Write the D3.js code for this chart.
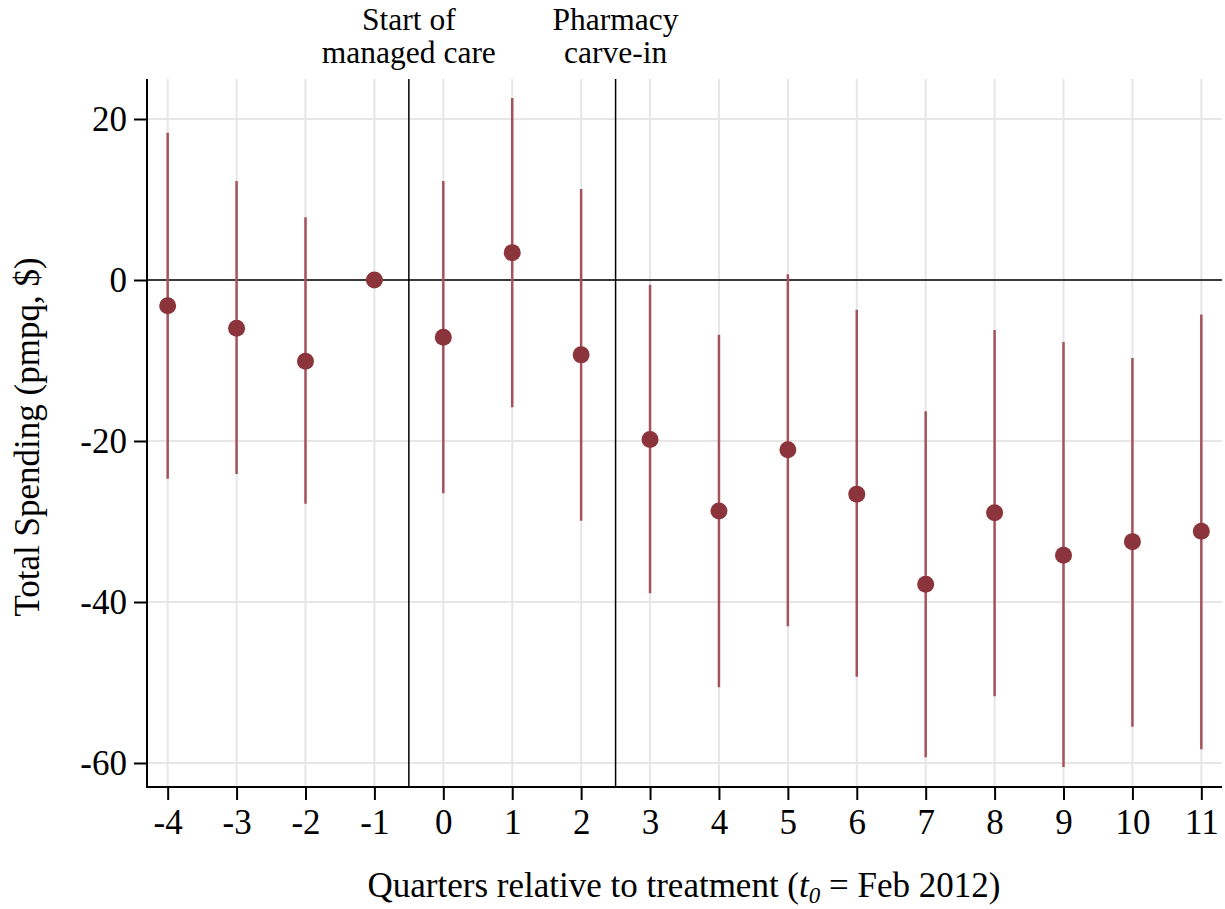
<!DOCTYPE html>
<html>
<head>
<meta charset="utf-8">
<script src="https://cdn.jsdelivr.net/npm/d3@7"></script>
<style>
  body { margin: 0; background: #fff; }
  text { font-family: "Liberation Serif", "Times New Roman", serif; fill: #000; }
</style>
</head>
<body>
<svg id="chart" width="1225" height="909"></svg>
<script>
// Event-study estimates
var quarters = [-4, -3, -2, -1, 0, 1, 2, 3, 4, 5, 6, 7, 8, 9, 10, 11];
var estimates = [-3.2, -6.0, -10.1, 0, -7.1, 3.4, -9.3, -19.8, -28.7, -21.1, -26.6, -37.8, -28.9, -34.2, -32.5, -31.2];
var ciLow = [-24.7, -24.1, -27.8, null, -26.5, -15.8, -29.9, -38.9, -50.6, -43.0, -49.3, -59.3, -51.7, -60.5, -55.5, -58.3];
var ciHigh = [18.3, 12.3, 7.8, null, 12.3, 22.6, 11.3, -0.6, -6.8, 0.7, -3.7, -16.3, -6.2, -7.7, -9.7, -4.3];
var yTicks = [20, 0, -20, -40, -60];
var events = [
  {x: -0.5, lines: ["Start of", "managed care"]},
  {x: 2.5, lines: ["Pharmacy", "carve-in"]}
];

var svg = d3.select("#chart");
var margin = {top: 79, right: 3, bottom: 122, left: 147};
var width = +svg.attr("width");
var height = +svg.attr("height");

var x = d3.scaleLinear()
          .domain([-4.3, 11.3])
          .range([margin.left, width - margin.right]);
var y = d3.scaleLinear()
          .domain([-60, 20])
          .range([763, 119]);
var yBottom = height - margin.bottom;

// plain hyphen for negatives, like the original
var fmt = function(d) { return String(d); };

var rows = quarters.map(function(q, i) {
  return {q: q, est: estimates[i], lo: ciLow[i], hi: ciHigh[i]};
});

// Gridlines
svg.append("g").selectAll("line")
   .data(quarters)
   .enter().append("line")
   .attr("x1", function(d) { return x(d); })
   .attr("x2", function(d) { return x(d); })
   .attr("y1", margin.top)
   .attr("y2", yBottom)
   .attr("stroke", "#e6e6e6")
   .attr("stroke-width", 2);

svg.append("g").selectAll("line")
   .data(yTicks)
   .enter().append("line")
   .attr("x1", margin.left)
   .attr("x2", width - margin.right)
   .attr("y1", function(d) { return y(d); })
   .attr("y2", function(d) { return y(d); })
   .attr("stroke", "#e6e6e6")
   .attr("stroke-width", 2);

// Zero line
svg.append("line")
   .attr("x1", margin.left)
   .attr("x2", width - margin.right)
   .attr("y1", y(0))
   .attr("y2", y(0))
   .attr("stroke", "#000")
   .attr("stroke-width", 1.5);

// Event lines and labels (one text per line)
events.forEach(function(e) {
  svg.append("line")
     .attr("x1", x(e.x))
     .attr("x2", x(e.x))
     .attr("y1", margin.top)
     .attr("y2", yBottom)
     .attr("stroke", "#000")
     .attr("stroke-width", 1.5);
  e.lines.forEach(function(s, i) {
    svg.append("text")
       .attr("x", x(e.x))
       .attr("y", 30 + i * 32.5)
       .style("text-anchor", "middle")
       .style("font-size", "31.5px")
       .text(s);
  });
});

// Confidence intervals
svg.append("g").selectAll("line")
   .data(rows.filter(function(d) { return d.lo !== null; }))
   .enter().append("line")
   .attr("x1", function(d) { return x(d.q); })
   .attr("x2", function(d) { return x(d.q); })
   .attr("y1", function(d) { return y(d.lo); })
   .attr("y2", function(d) { return y(d.hi); })
   .attr("stroke", "#a5525c")
   .attr("stroke-width", 2.5);

// Point estimates
svg.append("g").selectAll("circle")
   .data(rows)
   .enter().append("circle")
   .attr("cx", function(d) { return x(d.q); })
   .attr("cy", function(d) { return y(d.est); })
   .attr("r", 8.5)
   .attr("fill", "#8c343b");

// Axes
var xAxis = svg.append("g")
   .attr("transform", "translate(0," + yBottom + ")")
   .call(d3.axisBottom(x).tickValues(quarters).tickSize(13).tickPadding(9).tickFormat(fmt));
var yAxis = svg.append("g")
   .attr("transform", "translate(" + margin.left + ",0)")
   .call(d3.axisLeft(y).tickValues(yTicks).tickSize(13).tickPadding(7).tickFormat(fmt));

[xAxis, yAxis].forEach(function(a) {
  a.select(".domain").remove();
  a.selectAll(".tick line").attr("stroke-width", 2);
  a.selectAll("text").style("font-size", "35px");
});
svg.append("line")
   .attr("x1", margin.left).attr("x2", margin.left)
   .attr("y1", margin.top).attr("y2", yBottom + 1)
   .attr("stroke", "#000").attr("stroke-width", 2);
svg.append("line")
   .attr("x1", margin.left - 1).attr("x2", width - margin.right)
   .attr("y1", yBottom).attr("y2", yBottom)
   .attr("stroke", "#000").attr("stroke-width", 2);

// Axis titles
var xTitle = svg.append("text")
   .attr("x", (363 + 1005) / 2)
   .attr("y", 897)
   .style("text-anchor", "middle")
   .style("font-size", "35px");
xTitle.append("tspan").text("Quarters relative to treatment (");
xTitle.append("tspan").style("font-style", "italic").text("t");
xTitle.append("tspan").style("font-style", "italic").style("font-size", "23px").attr("dy", 6).text("0");
xTitle.append("tspan").attr("dy", -6).text(" = Feb 2012)");

svg.append("text")
   .attr("transform", "rotate(-90)")
   .attr("x", -437)
   .attr("y", 39)
   .style("text-anchor", "middle")
   .style("font-size", "35px")
   .text("Total Spending (pmpq, $)");
</script>
</body>
</html>
